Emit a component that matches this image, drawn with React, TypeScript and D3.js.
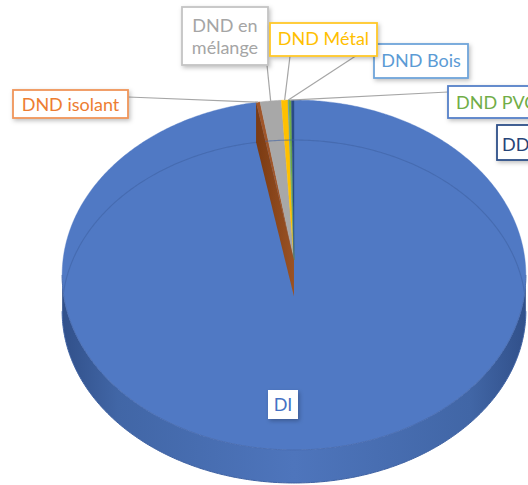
import React from "react";
import * as d3 from "d3";

// ---- data ----
const categories = ["DI", "DND isolant", "DND en mélange", "DND Métal", "DND Bois", "DND PVC", "DD"];
const values = [97.15, 0.3, 1.6, 0.5, 0.05, 0.2, 0.2];
const sliceColors = ["#5079C4", "#A0562A", "#A8A8A8", "#FFC000", "#5B9BD5", "#70AD47", "#2B4C86"];

// ---- label layout (styling) ----
type Lab = { i: number; x: number; y: number; w: number; h: number; lines: string[]; text: string; border: string | null; anchor: "middle" | "start"; lead: [number, number] | null; baselines: number[] };
const labels: Lab[] = [
  { i: 1, x: 13, y: 90, w: 115, h: 28, lines: ["DND isolant"], text: "#ED7D31", border: "#F0955A", anchor: "middle", lead: [128, 97], baselines: [110.5] },
  { i: 2, x: 182, y: 7, w: 86, h: 58, lines: ["DND en", "mélange"], text: "#A5A5A5", border: "#C4C4C4", anchor: "middle", lead: [267, 65], baselines: [32, 54] },
  { i: 4, x: 374, y: 44, w: 94, h: 34, lines: ["DND Bois"], text: "#5B9BD5", border: "#6FA5DA", anchor: "middle", lead: [374, 44], baselines: [67] },
  { i: 3, x: 270, y: 23, w: 107, h: 33, lines: ["DND Métal"], text: "#FFC000", border: "#FFC827", anchor: "middle", lead: [290, 56], baselines: [45] },
  { i: 5, x: 448, y: 86, w: 100, h: 32, lines: ["DND PVC"], text: "#70AD47", border: "#5580C8", anchor: "start", lead: [448, 92], baselines: [108.5] },
  { i: 6, x: 497, y: 125, w: 60, h: 35, lines: ["DD"], text: "#264478", border: "#2F4F88", anchor: "start", lead: null, baselines: [151] },
  { i: 0, x: 268, y: 390, w: 30, h: 29, lines: ["DI"], text: "#4472C4", border: null, anchor: "middle", lead: null, baselines: [411] },
];

// ---- projection of the tilted disk ----
const CX = 294, CY = 260, A = 231, B = 173.7, K = 0.0857;
const depth = (v: number) => 36.5 - 3.5 * v;
function proj(theta: number, r = 1, bottom = false): [number, number] {
  const u = Math.sin(theta) * r;
  const v = -Math.cos(theta) * r;
  const w = 1 - K * v;
  const x = CX + (A * u) / w;
  let y = CY + (B * v) / w;
  if (bottom) y += depth(v);
  return [x, y];
}
function arcPts(a0: number, a1: number, bottom = false) {
  const n = Math.max(2, Math.ceil(Math.abs(a1 - a0) / 0.01));
  return d3.range(n + 1).map((j) => proj(a0 + ((a1 - a0) * j) / n, 1, bottom));
}
const line = d3.line().curve(d3.curveLinear);

export default function App() {
  const pie = d3.pie<number>().sort(null).value((d) => d);
  const arcs = pie(values);
  const center = proj(0, 0);
  const centerB = proj(0, 0, true);

  const full = 2 * Math.PI;
  const topOutline = line(arcPts(0, full))! + "Z";
  const baseOutline = line(arcPts(0, full, true))! + "Z";

  const tL = Math.acos(-K);
  const tR = full - tL;
  const sidePts = [...arcPts(tL, tR), ...arcPts(tR, tL, true)];
  const sidePath = line(sidePts as [number, number][])! + "Z";

  // wall of the isolant slice at its start radius
  const aWall = arcs[1].startAngle;
  const wallPts: [number, number][] = [proj(aWall), center, centerB, proj(aWall, 1, true)];

  return (
    <svg width={528} height={485} style={{ position: "absolute", left: 0, top: 0, background: "#fff" }} fontFamily="Lato, 'Open Sans', sans-serif">
      <defs>
        <linearGradient id="side" x1="0" x2="1" y1="0" y2="0">
          <stop offset="0" stopColor="#31508A" />
          <stop offset="0.12" stopColor="#4166A6" />
          <stop offset="0.5" stopColor="#4E75BC" />
          <stop offset="0.88" stopColor="#4166A6" />
          <stop offset="1" stopColor="#31508A" />
        </linearGradient>
        <linearGradient id="wall" x1="0" x2="1" y1="0" y2="0">
          <stop offset="0" stopColor="#7A3A12" />
          <stop offset="1" stopColor="#9A5224" />
        </linearGradient>
        <clipPath id="topclip">
          <path d={topOutline} />
        </clipPath>
        <filter id="sh" x="-20%" y="-20%" width="140%" height="150%">
          <feDropShadow dx="1.5" dy="2" stdDeviation="2" floodColor="#000" floodOpacity="0.25" />
        </filter>
      </defs>

      {/* side of the pie */}
      <path d={sidePath} fill="url(#side)" />
      <path d={line(arcPts(tL, tR, true))!} fill="none" stroke="#3F62A3" strokeWidth={1} />

      {/* top faces */}
      {arcs.map((a, i) => {
        const pts = [center, ...arcPts(a.startAngle, a.endAngle)];
        return <path key={categories[i]} d={line(pts as [number, number][])! + "Z"} fill={sliceColors[i]} stroke={sliceColors[i]} strokeWidth={0.4} />;
      })}

      {/* faint back rim of the base seen through */}
      <path d={baseOutline} fill="none" stroke="#3F62A3" strokeOpacity={0.6} strokeWidth={1.1} clipPath="url(#topclip)" />
      <path d={line(arcPts(tL, tR))!} fill="none" stroke="#4A6DB0" strokeWidth={1} />

      {/* wall */}
      <path d={line(wallPts)! + "Z"} fill="url(#wall)" />

      {/* leader lines */}
      {labels.filter((l) => l.lead).map((l) => {
        const a = arcs[l.i];
        const p = proj((a.startAngle + a.endAngle) / 2);
        return <line key={"ld" + l.i} x1={l.lead![0]} y1={l.lead![1]} x2={p[0]} y2={p[1]} stroke="#A6A6A6" strokeWidth={1.2} />;
      })}

      {/* labels */}
      {labels.map((l) => (
        <g key={"lb" + l.i}>
          <rect x={l.x} y={l.y} width={l.w} height={l.h} fill="#fff" stroke={l.border ?? "none"} strokeWidth={1.8} filter="url(#sh)" />
          {l.lines.map((t, j) => (
            <text key={j} x={l.anchor === "middle" ? l.x + l.w / 2 : l.x + (l.i === 5 ? 8 : 5)} y={l.baselines[j]} textAnchor={l.anchor} fill={l.text} fontSize={18}>
              {t}
            </text>
          ))}
        </g>
      ))}
    </svg>
  );
}
